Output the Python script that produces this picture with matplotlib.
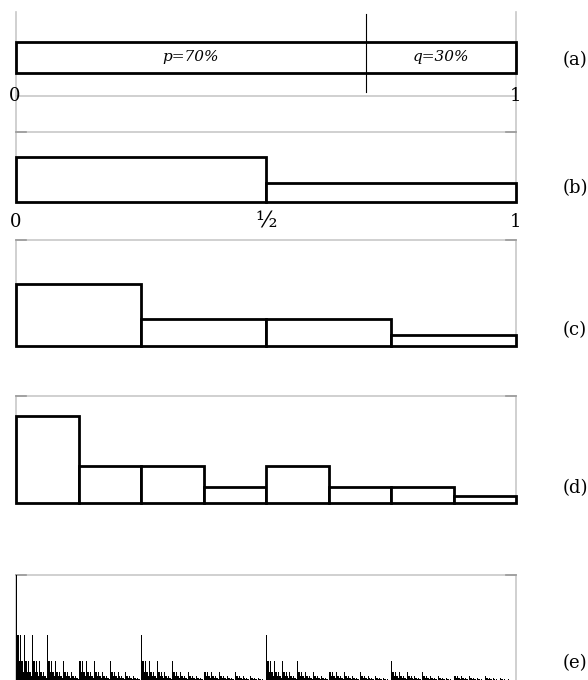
import numpy as np
import matplotlib
matplotlib.use("Agg")
import matplotlib.pyplot as plt
from matplotlib.patches import Rectangle

# ---------------- data ----------------
p_share = 0.7
q_share = 0.3
split_labels = ["p=70%", "q=30%"]
masses_b = [0.7, 0.3]
masses_c = [0.49, 0.21, 0.21, 0.09]
masses_d = [0.343, 0.147, 0.147, 0.063, 0.147, 0.063, 0.063, 0.027]
extra_levels_e = 6          # panel (e): cascade of (d) refined 6 more times (512 bins)
ticks_a = [0, 1]
tick_labels_a = ["0", "1"]
ticks_b = [0, 0.5, 1]
tick_labels_b = ["0", "\u00bd", "1"]
panel_labels = ["(a)", "(b)", "(c)", "(d)", "(e)"]

# binomial cascade for panel (e)
masses_e = np.array(masses_d)
for _ in range(extra_levels_e):
    masses_e = np.column_stack((masses_e * p_share, masses_e * q_share)).ravel()

# ---------------- figure ----------------
W, H = 588, 680
fig = plt.figure(figsize=(W / 100, H / 100), dpi=100)
SERIF = ["DejaVu Serif"]
GRAY = "#c8c8c8"
DGRAY = "#9a9a9a"
X0, X1 = 16, 516

ov = fig.add_axes([0, 0, 1, 1])
ov.set_xlim(0, W)
ov.set_ylim(H, 0)
ov.axis("off")


def px_axes(top, bottom):
    ax = fig.add_axes([X0 / W, 1 - bottom / H, (X1 - X0) / W, (bottom - top) / H])
    ax.set_xlim(0, 1)
    ax.axis("off")
    ax.patch.set_alpha(0)
    return ax


# gray frames
for (t, b) in [(12, 202), (240, 346), (396, 503), (575, 680)]:
    ov.plot([X0, X0], [t, b], color=GRAY, lw=1.2, zorder=1)
    ov.plot([X1, X1], [t, b], color=GRAY, lw=1.2, zorder=1)
ov.plot([X0, X1], [96, 96], color=GRAY, lw=1.2, zorder=1)
for t in [132, 240, 396, 575]:
    ov.plot([X0, X1], [t, t], color=GRAY, lw=1.2, zorder=1)
    ov.plot([X0, X0 + 10], [t, t], color=DGRAY, lw=1.2, zorder=1)
    ov.plot([X1 - 10, X1], [t, t], color=DGRAY, lw=1.2, zorder=1)

# ---------------- panel (a) ----------------
axa = px_axes(12, 96)
axa.set_ylim(96, 12)
axa.add_patch(Rectangle((0, 42), 1, 31, fill=False, ec="black", lw=2.0, clip_on=False))
axa.plot([p_share, p_share], [14, 92], color="black", lw=0.8)
axa.text(p_share / 2, 57.5, split_labels[0], ha="center", va="center",
         fontsize=11, style="italic", family=SERIF)
axa.text(p_share + q_share / 2, 57.5, split_labels[1], ha="center", va="center",
         fontsize=11, style="italic", family=SERIF)
for xv, lab in zip(ticks_a, tick_labels_a):
    axa.text(xv - 0.002, 96, lab, ha="center", va="center", fontsize=13, family=SERIF,
             clip_on=False)


# ---------------- panels (b)-(d) ----------------
def cascade_panel(masses, top, base, px_per_unit):
    ax = px_axes(top, base)
    n = len(masses)
    dens = np.asarray(masses) * n
    ax.set_ylim(0, (base - top) / px_per_unit)
    edges = np.arange(n) / n
    ax.bar(edges, dens, width=1.0 / n, align="edge", facecolor="white",
           edgecolor="black", lw=2.0, clip_on=False)
    return ax


axb = cascade_panel(masses_b, 132, 202, 31.8)
for xv, lab in zip(ticks_b, tick_labels_b):
    fs = 16 if lab == "\u00bd" else 13
    axb.text(xv, -20 / 31.8, lab, ha="center", va="center", fontsize=fs,
             family=SERIF, clip_on=False)
axc = cascade_panel(masses_c, 240, 346, 31.8)
axd = cascade_panel(masses_d, 396, 503, 31.8)

# ---------------- panel (e) ----------------
axe = px_axes(575, 680)
ne = len(masses_e)
dens_e = masses_e * ne
axe.set_ylim(0, dens_e.max())
axe.bar(np.arange(ne) / ne, dens_e, width=1.0 / ne, align="edge",
        color="black", lw=0, antialiased=False)

# panel labels
for lab, y in zip(panel_labels, [60, 188, 330, 488, 663]):
    ov.text(575, y, lab, ha="center", va="center", fontsize=13, family=SERIF)

fig.savefig("out.png", dpi=100)
